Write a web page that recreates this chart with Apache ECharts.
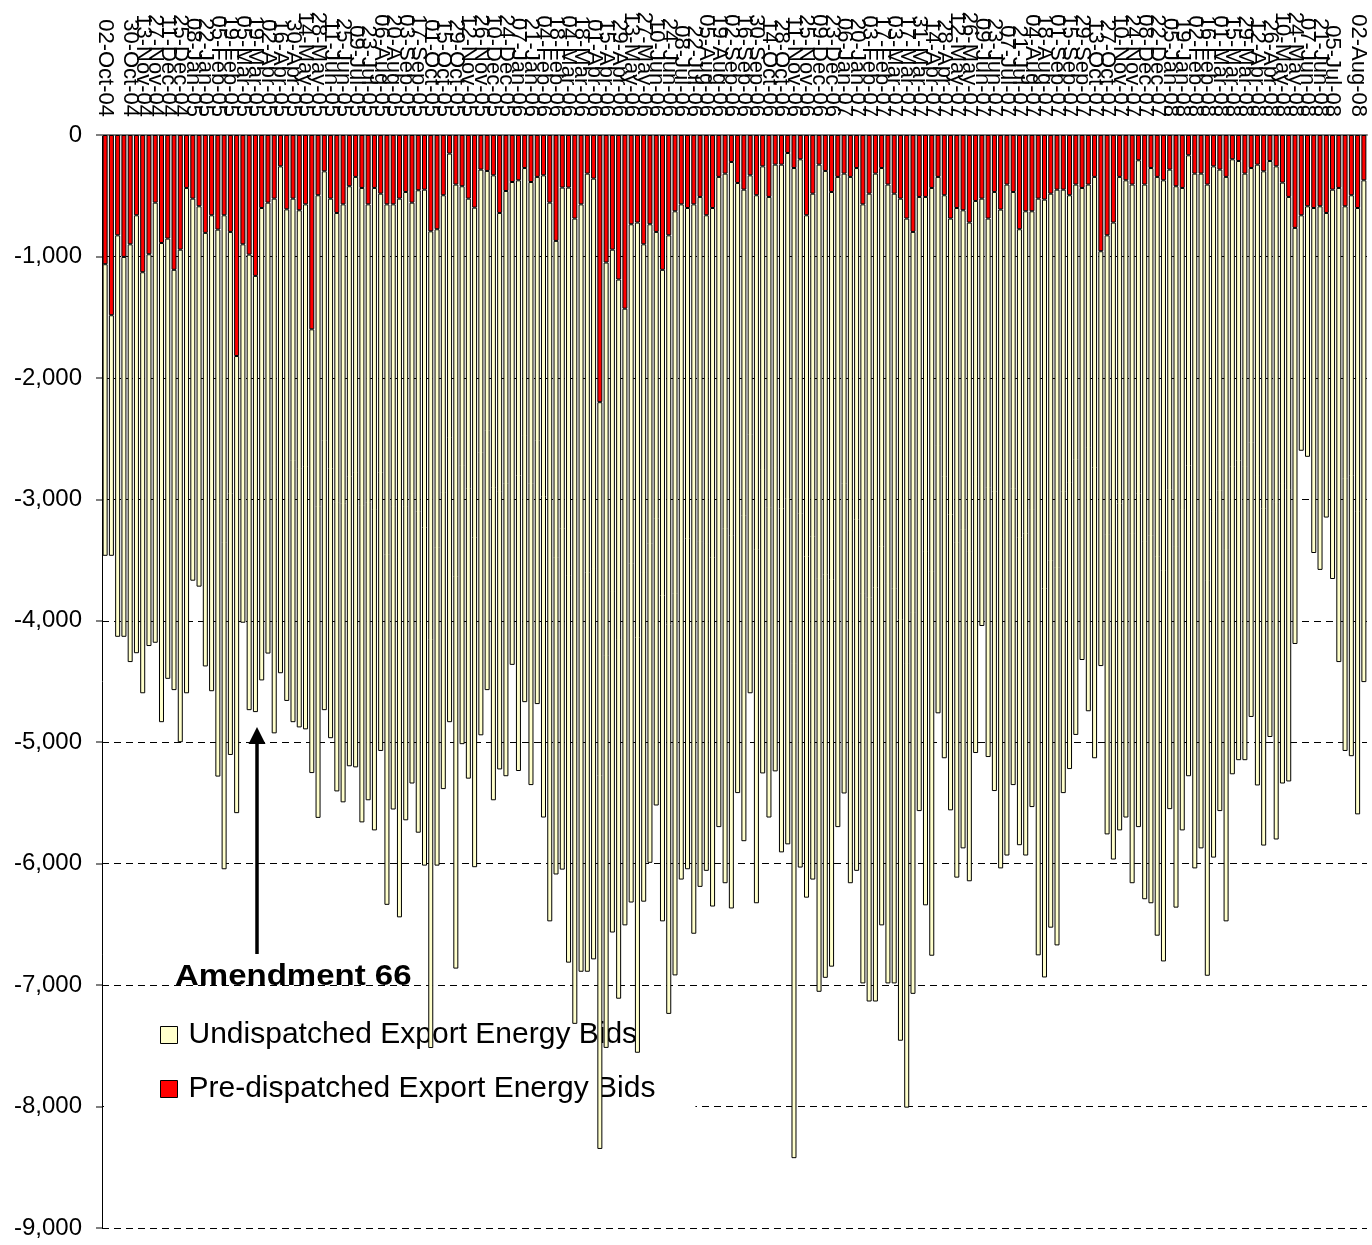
<!DOCTYPE html>
<html>
<head>
<meta charset="utf-8">
<script src="https://cdn.jsdelivr.net/npm/echarts@6/dist/echarts.min.js"></script>
<style>
html,body{margin:0;padding:0;background:#fff;}
#chart{width:1372px;height:1245px;}
</style>
</head>
<body>
<div id="chart"></div>
<script>
// Weekly categories (labels shown every other week)
const weeks = [
"02-Oct-04","09-Oct-04","16-Oct-04","23-Oct-04","30-Oct-04","06-Nov-04","13-Nov-04","20-Nov-04","27-Nov-04","04-Dec-04","11-Dec-04","18-Dec-04","25-Dec-04",
"01-Jan-05","08-Jan-05","15-Jan-05","22-Jan-05","29-Jan-05","05-Feb-05","12-Feb-05","19-Feb-05","26-Feb-05","05-Mar-05","12-Mar-05","19-Mar-05","26-Mar-05",
"02-Apr-05","09-Apr-05","16-Apr-05","23-Apr-05","30-Apr-05","07-May-05","14-May-05","21-May-05","28-May-05","04-Jun-05","11-Jun-05","18-Jun-05","25-Jun-05",
"02-Jul-05","09-Jul-05","16-Jul-05","23-Jul-05","30-Jul-05","06-Aug-05","13-Aug-05","20-Aug-05","27-Aug-05","03-Sep-05","10-Sep-05","17-Sep-05","24-Sep-05",
"01-Oct-05","08-Oct-05","15-Oct-05","22-Oct-05","29-Oct-05","05-Nov-05","12-Nov-05","19-Nov-05","26-Nov-05","03-Dec-05","10-Dec-05","17-Dec-05","24-Dec-05","31-Dec-05",
"07-Jan-06","14-Jan-06","21-Jan-06","28-Jan-06","04-Feb-06","11-Feb-06","18-Feb-06","25-Feb-06","04-Mar-06","11-Mar-06","18-Mar-06","25-Mar-06",
"01-Apr-06","08-Apr-06","15-Apr-06","22-Apr-06","29-Apr-06","06-May-06","13-May-06","20-May-06","27-May-06","03-Jun-06","10-Jun-06","17-Jun-06","24-Jun-06",
"01-Jul-06","08-Jul-06","15-Jul-06","22-Jul-06","29-Jul-06","05-Aug-06","12-Aug-06","19-Aug-06","26-Aug-06","02-Sep-06","09-Sep-06","16-Sep-06","23-Sep-06","30-Sep-06",
"07-Oct-06","14-Oct-06","21-Oct-06","28-Oct-06","04-Nov-06","11-Nov-06","18-Nov-06","25-Nov-06","02-Dec-06","09-Dec-06","16-Dec-06","23-Dec-06","30-Dec-06",
"06-Jan-07","13-Jan-07","20-Jan-07","27-Jan-07","03-Feb-07","10-Feb-07","17-Feb-07","24-Feb-07","03-Mar-07","10-Mar-07","17-Mar-07","24-Mar-07","31-Mar-07",
"07-Apr-07","14-Apr-07","21-Apr-07","28-Apr-07","05-May-07","12-May-07","19-May-07","26-May-07","02-Jun-07","09-Jun-07","16-Jun-07","23-Jun-07","30-Jun-07",
"07-Jul-07","14-Jul-07","21-Jul-07","28-Jul-07","04-Aug-07","11-Aug-07","18-Aug-07","25-Aug-07","01-Sep-07","08-Sep-07","15-Sep-07","22-Sep-07","29-Sep-07",
"06-Oct-07","13-Oct-07","20-Oct-07","27-Oct-07","03-Nov-07","10-Nov-07","17-Nov-07","24-Nov-07","01-Dec-07","08-Dec-07","15-Dec-07","22-Dec-07","29-Dec-07",
"05-Jan-08","12-Jan-08","19-Jan-08","26-Jan-08","02-Feb-08","09-Feb-08","16-Feb-08","23-Feb-08","01-Mar-08","08-Mar-08","15-Mar-08","22-Mar-08","29-Mar-08",
"05-Apr-08","12-Apr-08","19-Apr-08","26-Apr-08","03-May-08","10-May-08","17-May-08","24-May-08","31-May-08","07-Jun-08","14-Jun-08","21-Jun-08","28-Jun-08",
"05-Jul-08","12-Jul-08","19-Jul-08","26-Jul-08","02-Aug-08","09-Aug-08"
];

// Pre-dispatched export energy bids (MW, negative = export)
const preDispatched = [
-1064,-1484,-826,-1004,-900,-661,-1130,-982,-557,-889,
-853,-1110,-944,-436,-524,-587,-806,-661,-779,-661,
-798,-1820,-900,-985,-1160,-601,-557,-524,-258,-612,
-524,-620,-571,-1600,-496,-299,-524,-642,-571,-422,
-345,-436,-571,-436,-483,-571,-571,-524,-469,-557,
-455,-450,-793,-776,-496,-153,-408,-422,-524,-598,
-285,-296,-332,-642,-461,-387,-373,-272,-387,-345,
-332,-557,-872,-433,-433,-688,-571,-318,-359,-2200,
-1050,-944,-1190,-1430,-735,-721,-900,-735,-798,-1110,
-826,-628,-571,-601,-571,-510,-661,-601,-345,-318,
-222,-395,-450,-332,-496,-258,-510,-244,-244,-148,
-272,-200,-661,-483,-244,-296,-469,-345,-318,-345,
-272,-571,-483,-318,-272,-408,-483,-524,-688,-798,
-510,-510,-436,-345,-496,-688,-601,-620,-721,-543,
-524,-688,-469,-614,-408,-469,-776,-628,-628,-524,
-532,-483,-450,-450,-496,-408,-436,-408,-345,-957,
-826,-721,-345,-373,-408,-208,-408,-272,-345,-373,
-285,-422,-436,-167,-318,-318,-408,-258,-285,-345,
-200,-214,-318,-272,-244,-299,-214,-258,-392,-510,
-765,-661,-587,-601,-587,-642,-450,-436,-587,-496,
-601,-373
];

// Total export energy bids (pre-dispatched + undispatched)
const totalBids = [
-3465,-3465,-4132,-4132,-4340,-4267,-4597,-4208,-4181,-4835,
-4478,-4571,-5000,-4597,-3670,-3719,-4376,-4580,-5283,-6046,
-5105,-5584,-4016,-4736,-4752,-4491,-4270,-4927,-4432,-4660,
-4835,-4878,-4894,-5254,-5623,-4736,-4967,-5405,-5495,-5198,
-5207,-5660,-5478,-5726,-5072,-6339,-5554,-6442,-5643,-5340,
-5745,-6016,-7518,-6016,-5386,-4835,-6864,-5016,-5300,-6029,
-4943,-4571,-5478,-5224,-5280,-4363,-5237,-4670,-5353,-4686,
-5620,-6475,-6089,-6049,-6815,-7319,-6890,-6890,-6788,-8349,
-7517,-6567,-7112,-6508,-6320,-7557,-6313,-5993,-5521,-6475,
-7237,-6920,-6131,-6046,-6577,-6191,-6059,-6353,-5699,-6161,
-6369,-5419,-5815,-4597,-6326,-5257,-5620,-5240,-5907,-5841,
-8425,-6032,-6280,-6131,-7055,-6940,-6848,-5699,-5422,-6161,
-6059,-6986,-7135,-7135,-6508,-6986,-6986,-7458,-8009,-7072,
-5567,-6343,-6758,-4762,-5132,-5561,-6115,-5874,-6145,-5089,
-4043,-5122,-5402,-6039,-5933,-5353,-5848,-5933,-5534,-6755,
-6937,-6527,-6673,-5419,-5221,-4940,-4323,-4745,-5132,-4373,
-5759,-5966,-5726,-5620,-6161,-5699,-6293,-6326,-6593,-6805,
-5551,-6362,-5726,-5280,-6039,-5874,-6923,-5950,-5567,-6475,
-5264,-5148,-5148,-4792,-5356,-5851,-4957,-5801,-5340,-5323,
-4191,-2600,-2650,-3442,-3581,-3150,-3656,-4340,-5072,-5115,
-5594,-4505
];

const undispatched = totalBids.map((t, i) => t - preDispatched[i]);

const seriesNames = ["Pre-dispatched Export Energy Bids", "Undispatched Export Energy Bids"];
const annotationText = "Amendment 66";

const FONT = "'Liberation Sans', Arial, sans-serif";
const chart = echarts.init(document.getElementById('chart'), null, {renderer: 'canvas'});

chart.setOption({
  animation: false,
  backgroundColor: '#ffffff',
  grid: {left: 102, right: 5, top: 135, bottom: 17, containLabel: false},
  xAxis: {
    type: 'category',
    position: 'top',
    data: weeks,
    boundaryGap: true,
    axisLine: {show: true, onZero: false, lineStyle: {color: '#808080', width: 2}},
    axisTick: {show: false},
    axisLabel: {
      interval: (idx) => idx % 2 === 0,
      showMinLabel: true, showMaxLabel: true,
      rotate: 90, margin: 18,
      fontFamily: FONT, fontSize: 22, color: '#000'
    },
    splitLine: {show: false}
  },
  yAxis: {
    type: 'value',
    min: -9000, max: 0, interval: 1000,
    axisLine: {show: true, lineStyle: {color: '#000', width: 1}},
    axisTick: {show: true, length: 6, lineStyle: {color: '#808080', width: 2}},
    axisLabel: {
      fontFamily: FONT, fontSize: 24, color: '#000', margin: 20,
      formatter: v => v.toLocaleString('en-US')
    },
    splitLine: {show: true, lineStyle: {color: '#000', type: [7, 5], width: 1}}
  },
  legend: {
    data: [seriesNames[1], seriesNames[0]],
    orient: 'vertical',
    left: 104, top: 1002,
    padding: [18, 40, 18, 56],
    itemGap: 24,
    itemWidth: 17, itemHeight: 17,
    icon: 'rect',
    backgroundColor: '#ffffff',
    z: 1,
    itemStyle: {borderColor: '#000', borderWidth: 1},
    textStyle: {fontFamily: FONT, fontSize: 30, color: '#000', padding: [0, 0, 0, 6]}
  },
  series: [
    {
      name: seriesNames[0], type: 'bar', stack: 'bids',
      data: preDispatched, barCategoryGap: '20%', z: 2,
      itemStyle: {color: '#FF0000', borderColor: '#000', borderWidth: 1}
    },
    {
      name: seriesNames[1], type: 'bar', stack: 'bids',
      data: undispatched, barCategoryGap: '20%', z: 2,
      itemStyle: {color: '#FFFFCC', borderColor: '#000', borderWidth: 1}
    }
  ],
  graphic: [
    {
      type: 'text', z: 100, left: 175, top: 962,
      scaleX: 1.1, originX: 0,
      style: {text: annotationText, font: "bold 30px " + FONT, fill: '#000'}
    },
    {
      type: 'line', z: 100,
      shape: {x1: 257, y1: 954, x2: 257, y2: 740},
      style: {stroke: '#000', lineWidth: 3.5}
    },
    {
      type: 'polygon', z: 100,
      shape: {points: [[257, 727], [248.5, 744], [265.5, 744]]},
      style: {fill: '#000'}
    }
  ]
});
</script>
</body>
</html>
